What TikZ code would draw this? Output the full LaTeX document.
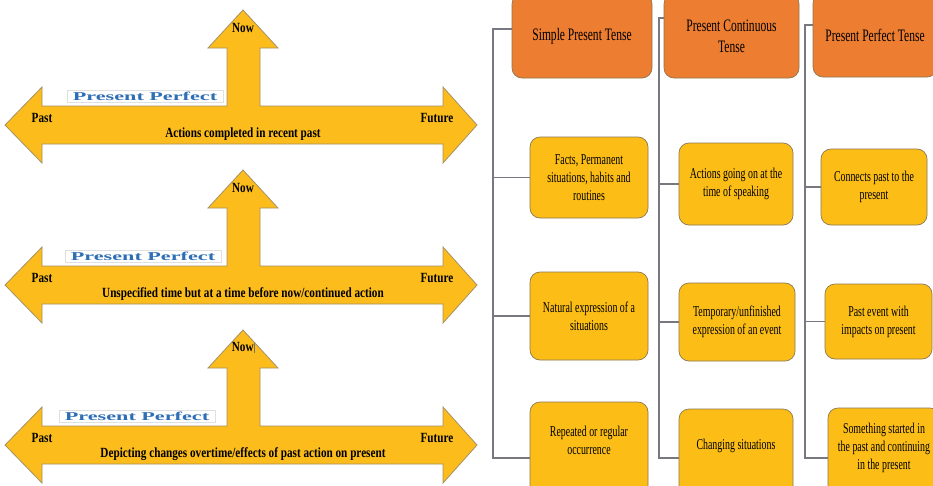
\documentclass[tikz,border=0pt]{standalone}
\usepackage{fontspec}
\setmainfont{Liberation Serif}
\newfontfamily\arrowfont{Liberation Serif}[FakeStretch=0.8]
\newfontfamily\chartfont{Liberation Serif}[FakeStretch=0.66]
\newfontfamily\wordartfont{Liberation Serif}[FakeStretch=1.85]
\usetikzlibrary{positioning}
\definecolor{arrowyellow}{RGB}{251,188,28}
\definecolor{arrowedge}{RGB}{165,145,100}
\definecolor{tenseorange}{RGB}{237,125,49}
\definecolor{usegold}{RGB}{252,190,22}
\definecolor{boxedge}{RGB}{140,120,80}
\definecolor{linkgray}{RGB}{120,120,128}
\definecolor{wordblue}{RGB}{46,110,180}
\newcommand{\nowbar}{{\color{black!55}\rule[-1.5pt]{0.5pt}{10pt}}}
\tikzset{
  timearrow/.style={fill=arrowyellow, draw=arrowedge, line width=0.8pt, line join=miter},
  lbl/.style={font=\arrowfont\bfseries\fontsize{14}{16}\selectfont, inner sep=0pt},
  wordart/.style={font=\wordartfont\bfseries\fontsize{12}{14}\selectfont, text=wordblue, fill=white, draw=black!12, inner xsep=4pt, inner ysep=2pt},
  tense/.style={rectangle, rounded corners=10pt, draw=boxedge, line width=0.7pt, fill=tenseorange, align=center, font=\chartfont\fontsize{17.5}{21}\selectfont, inner sep=2pt},
  usebox/.style={rectangle, rounded corners=10pt, draw=boxedge, line width=0.7pt, fill=usegold, align=center, font=\chartfont\fontsize{15}{18}\selectfont, inner sep=2pt},
  lowbox/.style={usebox, minimum height=112pt},
  link/.style={draw=linkgray, line width=1.1pt}
}

\begin{document}
\begin{tikzpicture}[x=1pt, y=-1pt]
  \fill[white] (0,0) rectangle (933,485);
  \useasboundingbox (0,0) rectangle (933,485);

  \foreach \yc/\ppx/\nowtext/\desc [count=\i] in {125/145/Now/{Actions completed in recent past}, 285/143/Now/{Unspecified time but at a time before now/continued action}, 445/137/{Now\nowbar}/{Depicting changes overtime/effects of past action on present}} {
    \draw[timearrow] (5,\yc) -- (42,\yc-38) -- (42,\yc-19) -- (227,\yc-19) -- (227,\yc-77) -- (208,\yc-77) -- (243,\yc-115) -- (278,\yc-77) -- (260,\yc-77) -- (260,\yc-19) -- (443,\yc-19) -- (443,\yc-38) -- (477,\yc) -- (443,\yc+38) -- (443,\yc+19) -- (42,\yc+19) -- (42,\yc+38) -- cycle;
    \node[wordart, minimum width=156pt] (pp\i) at (\ppx,\yc-29) {Present Perfect};
    \node[lbl] (now\i) at (243,\yc-97) {\nowtext};
    \node[lbl] (past\i) at (42,\yc-7) {Past};
    \node[lbl] (future\i) at (437,\yc-7) {Future};
    \node[lbl] (desc\i) at (243,\yc+9) {\desc};
  }

  \node[tense, minimum width=140pt, minimum height=84pt] (h1) at (582,36) {Simple Present Tense};
  \node[tense, minimum width=135pt, minimum height=84pt] (h2) at (731.5,36) {Present Continuous\\Tense};
  \node[tense, minimum width=124pt, minimum height=84pt] (h3) at (875,35) {Present Perfect Tense};

  \node[usebox, minimum width=118pt, minimum height=81pt] (c11) at (589,177.5) {Facts, Permanent\\situations, habits and\\routines};
  \node[usebox, minimum width=118pt, minimum height=88pt] (c12) at (589,316) {Natural expression of a\\situations};
  \node[lowbox, minimum width=118pt, text depth=36pt] (c13) at (589,458) {Repeated or regular\\occurrence};

  \node[usebox, minimum width=114pt, minimum height=82pt] (c21) at (736,184) {Actions going on at the\\time of speaking};
  \node[usebox, minimum width=116pt, minimum height=78pt] (c22) at (737,322) {Temporary/unfinished\\expression of an event};
  \node[lowbox, minimum width=114pt, minimum height=98pt, text depth=28pt] (c23) at (736,458) {Changing situations};

  \node[usebox, minimum width=106pt, minimum height=76pt] (c31) at (874,187) {Connects past to the\\present};
  \node[usebox, minimum width=107pt, minimum height=75pt] (c32) at (878.5,321.5) {Past event with\\impacts on present};
  \node[lowbox, minimum width=112pt, minimum height=100pt, text depth=24pt] (c33) at (884,458) {Something started in\\the past and continuing\\in the present};

  \coordinate (t1) at (493,29);
  \coordinate (t2) at (659,18);
  \coordinate (t3) at (805,25);

  \draw[link] (h1.west |- t1) -- (t1) |- (c13.west);
  \draw[link] (t1 |- c11.west) -- (c11.west);
  \draw[link] (t1 |- c12.west) -- (c12.west);

  \draw[link] (h2.west |- t2) -- (t2) |- (c23.west);
  \draw[link] (t2 |- c21.west) -- (c21.west);
  \draw[link] (t2 |- c22.west) -- (c22.west);

  \draw[link] (h3.west |- t3) -- (t3) |- (c33.west);
  \draw[link] (t3 |- c31.west) -- (c31.west);
  \draw[link] (t3 |- c32.west) -- (c32.west);
\end{tikzpicture}
\end{document}
